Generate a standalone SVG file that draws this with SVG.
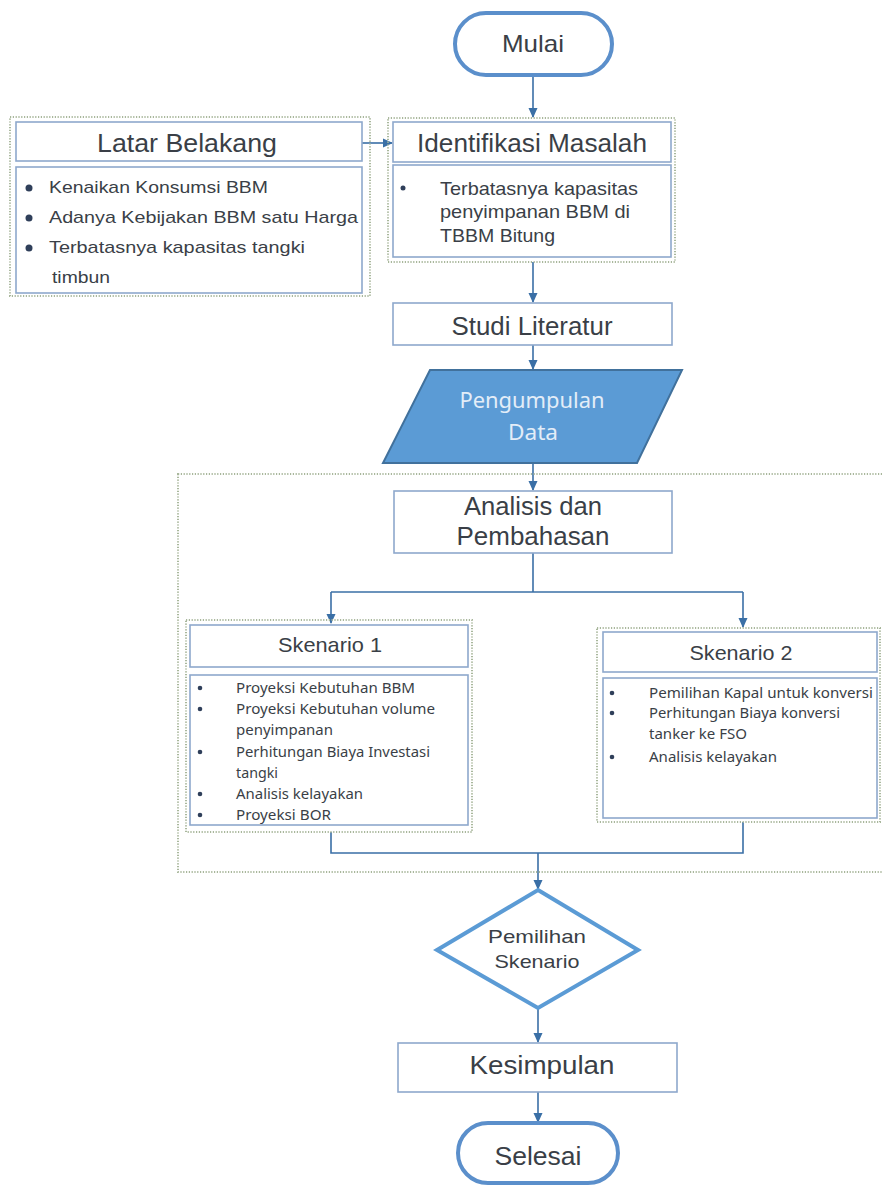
<svg xmlns="http://www.w3.org/2000/svg" width="883" height="1185" viewBox="0 0 883 1185">
<defs>
<marker id="ah" markerWidth="10" markerHeight="10" refX="9" refY="5" orient="auto" markerUnits="userSpaceOnUse">
<path d="M0,0.5 L10,5 L0,9.5 Z" fill="#3a6fa6"/>
</marker>
<style>
.box{fill:#fff;stroke:#8ea8cc;stroke-width:1.6}
.grp{fill:none;stroke:#a9b79c;stroke-width:2;stroke-dasharray:1.2 1.6}
.term{fill:#fff;stroke:#5b8fcb;stroke-width:4}
.t{font-family:"Liberation Sans",Arial,sans-serif;fill:#3a3f47}
.c{font-family:"Noto Sans","Open Sans",sans-serif;fill:#3a3f47}
.mid{text-anchor:middle}
.ln{fill:none;stroke:#3a6fa6;stroke-width:1.6}
.dot{fill:#2f3f5a}
</style>
</defs>
<rect width="883" height="1185" fill="#fff"/>

<g id="connectors">
<path class="ln" d="M533,75 V117" marker-end="url(#ah)"/>
<path class="ln" d="M362,143 H392" marker-end="url(#ah)"/>
<path class="ln" d="M533,262 V302" marker-end="url(#ah)"/>
<path class="ln" d="M533,345 V369" marker-end="url(#ah)"/>
<path class="ln" d="M533,463 V490" marker-end="url(#ah)"/>
<path class="ln" d="M533,553 V592"/>
<path class="ln" d="M331,592 H743"/>
<path class="ln" d="M331,592 V623" marker-end="url(#ah)"/>
<path class="ln" d="M743,592 V627" marker-end="url(#ah)"/>
<path class="ln" d="M331,832 V853 H743 V822"/>
<path class="ln" d="M538,853 V889" marker-end="url(#ah)"/>
<path class="ln" d="M538,1008 V1042" marker-end="url(#ah)"/>
<path class="ln" d="M538,1092 V1122" marker-end="url(#ah)"/>
</g>

<g id="analisis-group">
<rect class="grp" x="178" y="474" width="710" height="398"/>
</g>

<g id="mulai">
<rect class="term" x="455" y="13" width="157" height="62" rx="31"/>
<text class="t mid" x="533" y="52" font-size="24" textLength="62" lengthAdjust="spacingAndGlyphs">Mulai</text>
</g>

<g id="latar-belakang">
<rect class="grp" x="10" y="117" width="360" height="179"/>
<rect class="box" x="16" y="122" width="346" height="39"/>
<text class="t mid" x="187" y="152" font-size="26" textLength="180" lengthAdjust="spacingAndGlyphs">Latar Belakang</text>
<rect class="box" x="16" y="167" width="346" height="126"/>
<circle class="dot" cx="29" cy="188" r="3.5"/>
<circle class="dot" cx="29" cy="218" r="3.5"/>
<circle class="dot" cx="29" cy="248" r="3.5"/>
<text class="t" x="49" y="193" font-size="17" textLength="219" lengthAdjust="spacingAndGlyphs">Kenaikan Konsumsi BBM</text>
<text class="t" x="49" y="223" font-size="17" textLength="309" lengthAdjust="spacingAndGlyphs">Adanya Kebijakan BBM satu Harga</text>
<text class="t" x="49" y="253" font-size="17" textLength="256" lengthAdjust="spacingAndGlyphs">Terbatasnya kapasitas tangki</text>
<text class="t" x="52" y="283" font-size="17" textLength="58" lengthAdjust="spacingAndGlyphs">timbun</text>
</g>

<g id="identifikasi-masalah">
<rect class="grp" x="388" y="118" width="287" height="144"/>
<rect class="box" x="393" y="122" width="278" height="40"/>
<text class="t mid" x="532" y="152" font-size="26" textLength="230" lengthAdjust="spacingAndGlyphs">Identifikasi Masalah</text>
<rect class="box" x="393" y="165" width="278" height="92"/>
<circle class="dot" cx="403" cy="188" r="2.5"/>
<text class="t" x="440" y="195" font-size="19" textLength="198" lengthAdjust="spacingAndGlyphs">Terbatasnya kapasitas</text>
<text class="t" x="440" y="218" font-size="19" textLength="190" lengthAdjust="spacingAndGlyphs">penyimpanan BBM di</text>
<text class="t" x="440" y="242" font-size="19" textLength="115" lengthAdjust="spacingAndGlyphs">TBBM Bitung</text>
</g>

<g id="studi-literatur">
<rect class="box" x="393" y="303" width="279" height="42"/>
<text class="t mid" x="532" y="335" font-size="25" textLength="161" lengthAdjust="spacingAndGlyphs">Studi Literatur</text>
</g>

<g id="pengumpulan-data">
<polygon points="430,370 682,370 637,463 383,463" fill="#5b9bd5" stroke="#41719c" stroke-width="2"/>
<text class="c mid" x="532" y="408" font-size="22" style="fill:#e3edf8" textLength="145" lengthAdjust="spacingAndGlyphs">Pengumpulan</text>
<text class="c mid" x="533" y="440" font-size="22" style="fill:#e3edf8" textLength="50" lengthAdjust="spacingAndGlyphs">Data</text>
</g>

<g id="analisis-pembahasan">
<rect class="box" x="394" y="491" width="278" height="62"/>
<text class="t mid" x="533" y="515" font-size="26" textLength="138" lengthAdjust="spacingAndGlyphs">Analisis dan</text>
<text class="t mid" x="533" y="545" font-size="26" textLength="153" lengthAdjust="spacingAndGlyphs">Pembahasan</text>
</g>

<g id="skenario-1">
<rect class="grp" x="186" y="620" width="286" height="212"/>
<rect class="box" x="190" y="625" width="278" height="42"/>
<text class="t mid" x="330" y="652" font-size="21" textLength="104" lengthAdjust="spacingAndGlyphs">Skenario 1</text>
<rect class="box" x="190" y="675" width="278" height="150"/>
<circle class="dot" cx="200" cy="688" r="2.3"/>
<circle class="dot" cx="200" cy="709" r="2.3"/>
<circle class="dot" cx="200" cy="752" r="2.3"/>
<circle class="dot" cx="200" cy="794" r="2.3"/>
<circle class="dot" cx="200" cy="815" r="2.3"/>
<text class="c" x="236" y="693" font-size="14" textLength="179" lengthAdjust="spacingAndGlyphs">Proyeksi Kebutuhan BBM</text>
<text class="c" x="236" y="714" font-size="14" textLength="199" lengthAdjust="spacingAndGlyphs">Proyeksi Kebutuhan volume</text>
<text class="c" x="236" y="735" font-size="14" textLength="97" lengthAdjust="spacingAndGlyphs">penyimpanan</text>
<text class="c" x="236" y="757" font-size="14" textLength="194" lengthAdjust="spacingAndGlyphs">Perhitungan Biaya Investasi</text>
<text class="c" x="236" y="778" font-size="14" textLength="42" lengthAdjust="spacingAndGlyphs">tangki</text>
<text class="c" x="236" y="799" font-size="14" textLength="127" lengthAdjust="spacingAndGlyphs">Analisis kelayakan</text>
<text class="c" x="236" y="820" font-size="14" textLength="95" lengthAdjust="spacingAndGlyphs">Proyeksi BOR</text>
</g>

<g id="skenario-2">
<rect class="grp" x="597" y="628" width="283" height="194"/>
<rect class="box" x="603" y="632" width="274" height="40"/>
<text class="t mid" x="741" y="660" font-size="21" textLength="103" lengthAdjust="spacingAndGlyphs">Skenario 2</text>
<rect class="box" x="603" y="678" width="274" height="140"/>
<circle class="dot" cx="612" cy="693" r="2.3"/>
<circle class="dot" cx="612" cy="713" r="2.3"/>
<circle class="dot" cx="612" cy="757" r="2.3"/>
<text class="c" x="649" y="698" font-size="14" textLength="224" lengthAdjust="spacingAndGlyphs">Pemilihan Kapal untuk konversi</text>
<text class="c" x="649" y="718" font-size="14" textLength="191" lengthAdjust="spacingAndGlyphs">Perhitungan Biaya konversi</text>
<text class="c" x="649" y="739" font-size="14" textLength="98" lengthAdjust="spacingAndGlyphs">tanker ke FSO</text>
<text class="c" x="649" y="762" font-size="14" textLength="128" lengthAdjust="spacingAndGlyphs">Analisis kelayakan</text>
</g>

<g id="pemilihan-skenario">
<polygon points="538,890 638,950 538,1008 437,950" fill="#fff" stroke="#5b9bd5" stroke-width="4" stroke-linejoin="miter"/>
<text class="t mid" x="537" y="943" font-size="19" textLength="98" lengthAdjust="spacingAndGlyphs">Pemilihan</text>
<text class="t mid" x="537" y="968" font-size="19" textLength="85" lengthAdjust="spacingAndGlyphs">Skenario</text>
</g>

<g id="kesimpulan">
<rect class="box" x="398" y="1043" width="279" height="49"/>
<text class="t mid" x="542" y="1074" font-size="25" textLength="145" lengthAdjust="spacingAndGlyphs">Kesimpulan</text>
</g>

<g id="selesai">
<rect class="term" x="458" y="1123" width="160" height="60" rx="30"/>
<text class="t mid" x="538" y="1165" font-size="25" textLength="87" lengthAdjust="spacingAndGlyphs">Selesai</text>
</g>
</svg>
